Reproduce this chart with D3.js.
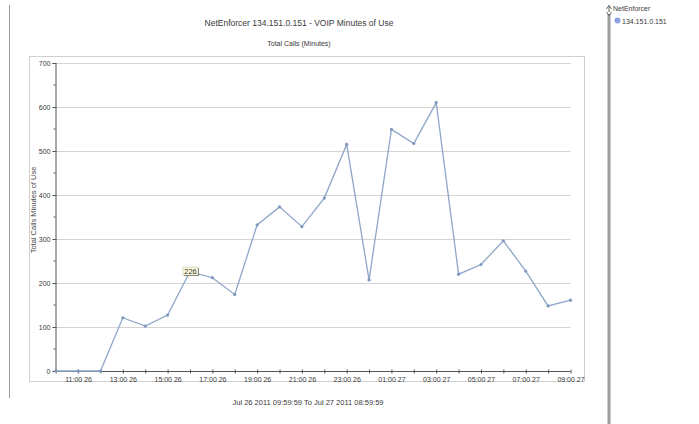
<!DOCTYPE html>
<html>
<head>
<meta charset="utf-8">
<script src="https://cdn.jsdelivr.net/npm/d3@7/dist/d3.min.js"></script>
<style>
  html, body { margin: 0; padding: 0; background: #fff; }
  svg { display: block; font-family: "Liberation Sans", Arial, sans-serif; }
</style>
</head>
<body>
<svg id="chart" width="699" height="424"></svg>
<script>
// Hourly VOIP minutes for host 134.151.0.151, Jul 26 10:00 .. Jul 27 09:00
const hours = [
  "2011-07-26T10:00", "2011-07-26T11:00", "2011-07-26T12:00", "2011-07-26T13:00",
  "2011-07-26T14:00", "2011-07-26T15:00", "2011-07-26T16:00", "2011-07-26T17:00",
  "2011-07-26T18:00", "2011-07-26T19:00", "2011-07-26T20:00", "2011-07-26T21:00",
  "2011-07-26T22:00", "2011-07-26T23:00", "2011-07-27T00:00", "2011-07-27T01:00",
  "2011-07-27T02:00", "2011-07-27T03:00", "2011-07-27T04:00", "2011-07-27T05:00",
  "2011-07-27T06:00", "2011-07-27T07:00", "2011-07-27T08:00", "2011-07-27T09:00"
];
const minutes = [
  0, 0, 0, 121, 102, 127, 226, 212, 174, 332, 373, 328,
  393, 515, 207, 549, 517, 610, 220, 242, 296, 227, 148, 161
];
const yTicks = [0, 100, 200, 300, 400, 500, 600, 700];
const seriesName = "134.151.0.151";
const groupName = "NetEnforcer";
const titleText = "NetEnforcer 134.151.0.151 - VOIP Minutes of Use";
const subtitleText = "Total Calls (Minutes)";
const yAxisTitle = "Total Calls Minutes of Use";
const rangeText = "Jul 26 2011  09:59:59  To  Jul 27 2011  08:59:59";
const highlightIndex = 6; // hour whose value is shown in the callout

const parse = d3.timeParse("%Y-%m-%dT%H:%M");
const data = hours.map((h, i) => ({ t: parse(h), v: minutes[i] }));

const svg = d3.select("#chart");
const textColor = "#3a3a3a";
const lineColor = "#8ea6c8";

// Page decorations: left divider and right legend pane divider
svg.append("line").attr("x1", 9.5).attr("x2", 9.5).attr("y1", 5).attr("y2", 398)
  .attr("stroke", "#9a9a9a").attr("stroke-width", 1);
svg.append("line").attr("x1", 609).attr("x2", 609).attr("y1", 14).attr("y2", 424)
  .attr("stroke", "#9c9c9c").attr("stroke-width", 3);
// small splitter arrows at top of pane divider
svg.append("path").attr("d", "M606.5,9 L609,5.5 L611.5,9 M609,5.5 L609,12 M606.5,12 L609,15.5 L611.5,12")
  .attr("fill", "none").attr("stroke", "#555").attr("stroke-width", 0.9);

// Legend
svg.append("text").attr("x", 613).attr("y", 11).attr("font-size", 7)
  .attr("fill", textColor).text(groupName);
svg.append("circle").attr("cx", 617.5).attr("cy", 20.5).attr("r", 3)
  .attr("fill", "#8c9fe2");
svg.append("text").attr("x", 622).attr("y", 23.5).attr("font-size", 7)
  .attr("fill", textColor).text(seriesName);

// Plot frame
svg.append("rect").attr("x", 29.5).attr("y", 56.5).attr("width", 555).attr("height", 325)
  .attr("fill", "none").attr("stroke", "#cfcfcf");

// Titles
svg.append("text").attr("x", 299).attr("y", 26).attr("text-anchor", "middle")
  .attr("font-size", 8.5).attr("fill", textColor).text(titleText);
svg.append("text").attr("x", 299).attr("y", 46).attr("text-anchor", "middle")
  .attr("font-size", 7).attr("fill", textColor).text(subtitleText);
svg.append("text").attr("x", 308).attr("y", 405).attr("text-anchor", "middle")
  .attr("font-size", 7.5).attr("fill", textColor).text(rangeText);

// Scales
const x = d3.scaleTime()
  .domain(d3.extent(data, d => d.t))
  .range([55.7, 570.5]);
const y = d3.scaleLinear().domain([0, 700]).range([371, 63]);

// Horizontal gridlines
svg.append("g").selectAll("line").data(yTicks.filter(d => d > 0)).join("line")
  .attr("x1", 56).attr("x2", 570.5)
  .attr("y1", d => Math.round(y(d)) + 0.5).attr("y2", d => Math.round(y(d)) + 0.5)
  .attr("stroke", "#d4d4d4").attr("stroke-width", 1);

// Y axis
const yAxis = d3.axisLeft(y).tickValues(yTicks).tickSize(3).tickPadding(2)
  .tickFormat(d3.format("d"));
const gy = svg.append("g").attr("transform", "translate(55.5,0)").call(yAxis);
gy.select(".domain").attr("stroke", "#555");
gy.selectAll(".tick line").attr("stroke", "#555").attr("x2", -3).attr("x1", 1);
gy.selectAll(".tick text").attr("font-size", 7).attr("fill", textColor)
  .attr("font-family", "Liberation Sans, Arial, sans-serif");
// minor ticks between labelled values
gy.append("g").selectAll("line").data(d3.range(50, 700, 100)).join("line")
  .attr("x1", -2).attr("x2", 0)
  .attr("y1", d => y(d)).attr("y2", d => y(d))
  .attr("stroke", "#555");

// Y axis title
svg.append("text")
  .attr("transform", "translate(36,210) rotate(-90)")
  .attr("text-anchor", "middle").attr("font-size", 7.5).attr("fill", "#4a4a4a")
  .text(yAxisTitle);

// X axis: tick at every hour, label at odd hours
const fmt = d3.timeFormat("%H:%M %d");
const xAxis = d3.axisBottom(x).tickValues(data.map(d => d.t)).tickSize(2).tickPadding(4)
  .tickFormat(d => d.getHours() % 2 === 1 ? fmt(d) : "");
const gx = svg.append("g").attr("transform", "translate(0,371.5)").call(xAxis);
gx.select(".domain").attr("stroke", "#555").attr("d", `M55.5,0H${x.range()[1]}`);
gx.selectAll(".tick line").attr("stroke", "#555").attr("y1", -2).attr("y2", 2);
gx.selectAll(".tick text").attr("font-size", 7).attr("fill", textColor)
  .attr("font-family", "Liberation Sans, Arial, sans-serif");

// Series line and markers
const line = d3.line().x(d => x(d.t)).y(d => y(d.v));
svg.append("path").datum(data).attr("d", line)
  .attr("fill", "none").attr("stroke", lineColor).attr("stroke-width", 1.3);
svg.append("g").selectAll("circle").data(data).join("circle")
  .attr("cx", d => x(d.t)).attr("cy", d => y(d.v)).attr("r", 1.6)
  .attr("fill", "#7f97bf");

// Value callout
const hp = data[highlightIndex];
const hx = x(hp.t), hy = y(hp.v);
const callout = svg.append("g").attr("transform", `translate(${hx - 7},${hy - 4.5})`);
callout.append("rect").attr("x", 1).attr("y", 1).attr("width", 15).attr("height", 8)
  .attr("fill", "#777");
callout.append("rect").attr("x", 0).attr("y", 0).attr("width", 15).attr("height", 8)
  .attr("fill", "#fbfbdc").attr("stroke", "#b8b8a0").attr("stroke-width", 0.5);
callout.append("text").attr("x", 7.5).attr("y", 6.5).attr("text-anchor", "middle")
  .attr("font-size", 7.5).attr("fill", "#333").text(hp.v);
</script>
</body>
</html>
